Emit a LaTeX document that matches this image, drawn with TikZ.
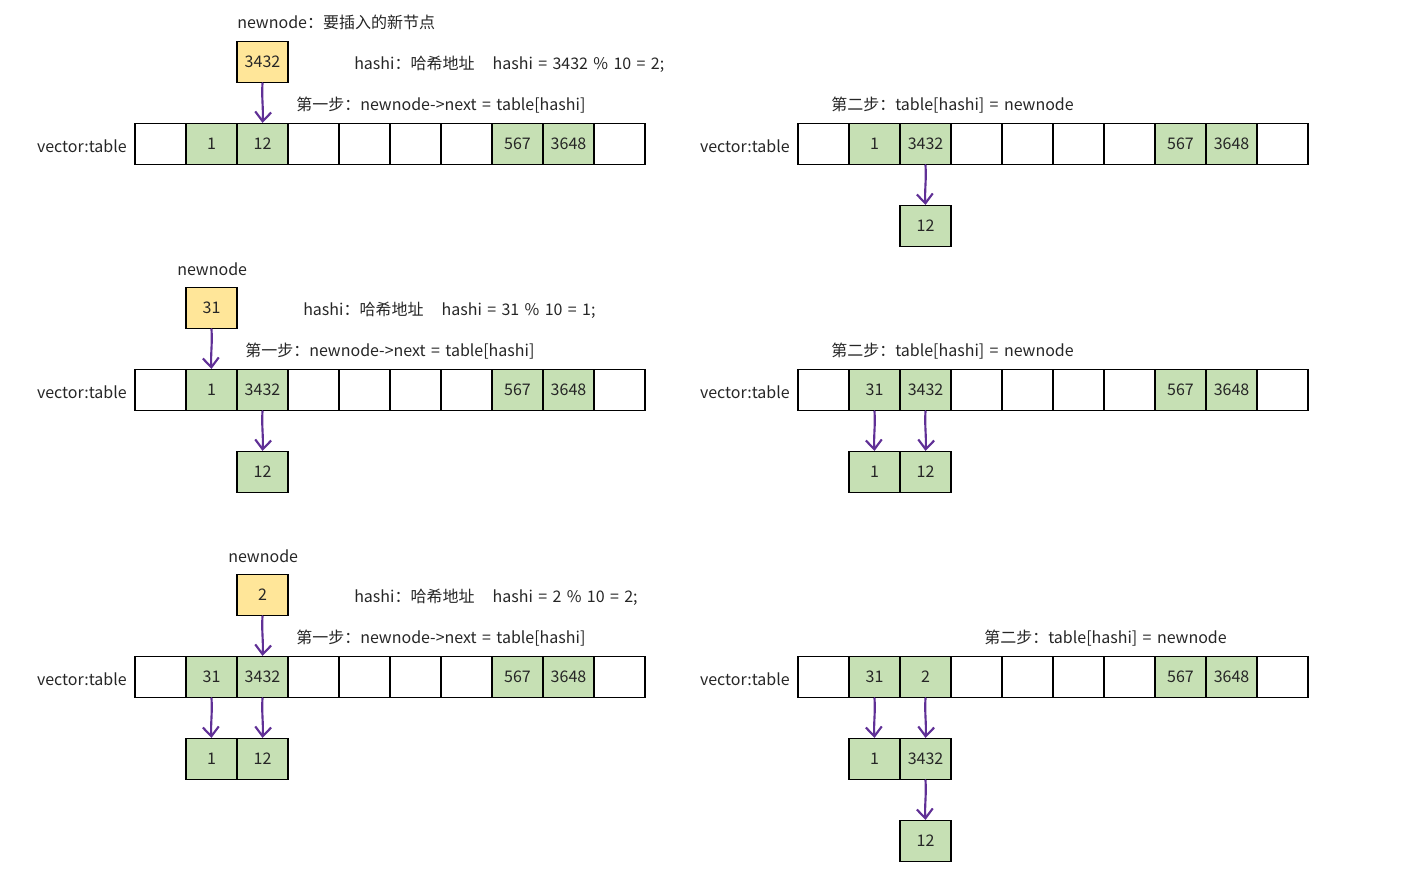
\documentclass[tikz,border=0pt]{standalone}
\usepackage{fontspec}
\setmainfont[WordSpace=1.5]{Noto Sans CJK SC}
\usetikzlibrary{arrows.meta}
\definecolor{cellgreen}{RGB}{198,224,180}
\definecolor{cellyellow}{RGB}{255,230,153}
\definecolor{arrowpurple}{RGB}{96,48,150}
\tikzset{
  cell/.style={draw=black, line width=0.9pt, minimum width=38.25pt, minimum height=30.75pt, inner sep=0pt, font=\fontsize{12}{14}\selectfont, text=black!85},
  gcell/.style={cell, fill=cellgreen},
  ycell/.style={cell, fill=cellyellow},
  lbl/.style={inner sep=0pt, font=\fontsize{12}{14}\selectfont, text=black!85},
  link/.style={draw=arrowpurple, line width=1.6pt, line cap=round, -{Straight Barb[length=7pt,width=12pt,line width=1.6pt]}}
}
% #1 prefix, #2 left x (px), #3 center y (px), #4 list idx/value/fill
\newcommand\hashrow[4]{%
  \foreach \i/\v/\f in {#4}{%
    \node[cell, fill=\f] (#1-\i) at ({#2+51*\i+25.5},#3) {\v};
  }%
}
\begin{document}
\begin{tikzpicture}[x=0.75pt,y=-0.75pt]
\useasboundingbox (0,0) rectangle (1405,872);

% ---------- Row 1 left ----------
\node[lbl, anchor=west] (t1a) at (237,22) {newnode：要插入的新节点};
\node[ycell] (n1) at (262.5,62) {3432};
\node[lbl, anchor=west] (t1b) at (354,64) {hashi：哈希地址\hspace{13.5pt}hashi = 3432 \% 10 = 2;};
\node[lbl, anchor=west] (t1c) at (296,105) {第一步：newnode->next = table[hashi]};
\node[lbl, anchor=east] (v1) at (127,146) {vector:table};
\hashrow{A}{135}{144}{0//white,1/1/cellgreen,2/12/cellgreen,3//white,4//white,5//white,6//white,7/567/cellgreen,8/3648/cellgreen,9//white}
\draw[link] (n1.south) .. controls +(-1,15) and +(1,-15) .. (A-2.north);

% ---------- Row 1 right ----------
\node[lbl, anchor=west] (t2c) at (831,105) {第二步：table[hashi] = newnode};
\node[lbl, anchor=east] (v2) at (790,146) {vector:table};
\hashrow{B}{798}{144}{0//white,1/1/cellgreen,2/3432/cellgreen,3//white,4//white,5//white,6//white,7/567/cellgreen,8/3648/cellgreen,9//white}
\node[gcell] (B12) at (925.5,226) {12};
\draw[link] (B-2.south) .. controls +(1,15) and +(-1,-15) .. (B12.north);

% ---------- Row 2 left ----------
\node[lbl, anchor=west] (t3a) at (177,269) {newnode};
\node[ycell] (n2) at (211.5,308) {31};
\node[lbl, anchor=west] (t3b) at (303,310) {hashi：哈希地址\hspace{13.5pt}hashi = 31 \% 10 = 1;};
\node[lbl, anchor=west] (t3c) at (245,351) {第一步：newnode->next = table[hashi]};
\node[lbl, anchor=east] (v3) at (127,392) {vector:table};
\hashrow{C}{135}{390}{0//white,1/1/cellgreen,2/3432/cellgreen,3//white,4//white,5//white,6//white,7/567/cellgreen,8/3648/cellgreen,9//white}
\node[gcell] (C12) at (262.5,472) {12};
\draw[link] (n2.south) .. controls +(1,15) and +(-1,-15) .. (C-1.north);
\draw[link] (C-2.south) .. controls +(-1,15) and +(1,-15) .. (C12.north);

% ---------- Row 2 right ----------
\node[lbl, anchor=west] (t4c) at (831,351) {第二步：table[hashi] = newnode};
\node[lbl, anchor=east] (v4) at (790,392) {vector:table};
\hashrow{D}{798}{390}{0//white,1/31/cellgreen,2/3432/cellgreen,3//white,4//white,5//white,6//white,7/567/cellgreen,8/3648/cellgreen,9//white}
\node[gcell] (D1) at (874.5,472) {1};
\node[gcell] (D12) at (925.5,472) {12};
\draw[link] (D-1.south) .. controls +(1,15) and +(-1,-15) .. (D1.north);
\draw[link] (D-2.south) .. controls +(-1,15) and +(1,-15) .. (D12.north);

% ---------- Row 3 left ----------
\node[lbl, anchor=west] (t5a) at (228,556) {newnode};
\node[ycell] (n3) at (262.5,595) {2};
\node[lbl, anchor=west] (t5b) at (354,597) {hashi：哈希地址\hspace{13.5pt}hashi = 2 \% 10 = 2;};
\node[lbl, anchor=west] (t5c) at (296,638) {第一步：newnode->next = table[hashi]};
\node[lbl, anchor=east] (v5) at (127,679) {vector:table};
\hashrow{E}{135}{677}{0//white,1/31/cellgreen,2/3432/cellgreen,3//white,4//white,5//white,6//white,7/567/cellgreen,8/3648/cellgreen,9//white}
\node[gcell] (E1) at (211.5,759) {1};
\node[gcell] (E12) at (262.5,759) {12};
\draw[link] (n3.south) .. controls +(-1,15) and +(1,-15) .. (E-2.north);
\draw[link] (E-1.south) .. controls +(1,15) and +(-1,-15) .. (E1.north);
\draw[link] (E-2.south) .. controls +(-1,15) and +(1,-15) .. (E12.north);

% ---------- Row 3 right ----------
\node[lbl, anchor=west] (t6c) at (984,638) {第二步：table[hashi] = newnode};
\node[lbl, anchor=east] (v6) at (790,679) {vector:table};
\hashrow{F}{798}{677}{0//white,1/31/cellgreen,2/2/cellgreen,3//white,4//white,5//white,6//white,7/567/cellgreen,8/3648/cellgreen,9//white}
\node[gcell] (F1) at (874.5,759) {1};
\node[gcell] (F3432) at (925.5,759) {3432};
\node[gcell] (F12) at (925.5,841) {12};
\draw[link] (F-1.south) .. controls +(1,15) and +(-1,-15) .. (F1.north);
\draw[link] (F-2.south) .. controls +(-1,15) and +(1,-15) .. (F3432.north);
\draw[link] (F3432.south) .. controls +(1,15) and +(-1,-15) .. (F12.north);
\end{tikzpicture}
\end{document}
